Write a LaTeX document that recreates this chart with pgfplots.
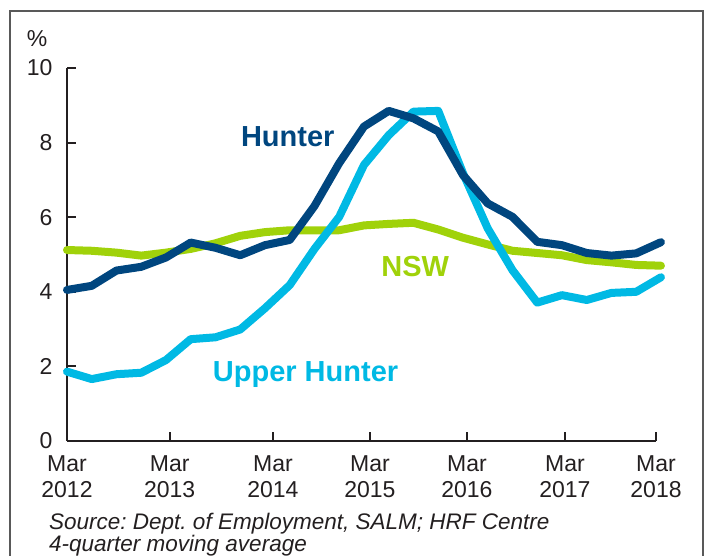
\documentclass[border=0pt]{standalone}
\usepackage{pgfplots}
\pgfplotsset{compat=1.18}
\usepackage{fontspec}
\setmainfont{Liberation Sans}
\definecolor{hunter}{RGB}{0,70,127}
\definecolor{upper}{RGB}{0,185,228}
\definecolor{nsw}{RGB}{160,210,10}
\definecolor{ink}{RGB}{35,31,32}
\frenchspacing

\begin{document}
\begin{tikzpicture}
\useasboundingbox (0,0) rectangle (705bp,556bp);
% outer frame (bottom edge falls off the page)
\draw[line width=1.2bp, black!65] (10bp,-20bp) -- (10bp,545bp) -- (703bp,545bp) -- (703bp,-20bp);
\begin{axis}[
    at={(67bp,115bp)}, anchor=south west,
    scale only axis, width=589bp, height=373bp,
    xmin=0, xmax=23.8, ymin=0, ymax=10,
    axis x line=bottom, axis y line=left,
    axis line style={line width=2.2bp, ink, -},
    xtick={0,4.15,8.32,12.24,16.16,20.12,23.8},
    xticklabels={{Mar\\2012},{Mar\\2013},{Mar\\2014},{Mar\\2015},{Mar\\2016},{Mar\\2017},{Mar\\2018}},
    ytick={0,2,...,10},
    tick align=inside, major tick length=9bp,
    tick style={line width=2bp, ink},
    tick label style={font=\fontsize{23bp}{25.5bp}\selectfont, text=ink},
    xticklabel style={align=center, inner ysep=14.5bp},
    yticklabel style={inner xsep=0pt, xshift=-14.3bp},
    /pgf/number format/assume math mode=true,
    clip=false,
]
% NSW
\addplot[nsw, line width=8bp, line join=round, line cap=round] coordinates {
  (0,5.12) (1,5.10) (2,5.05) (3,4.97) (4,5.05) (5,5.15) (6,5.30) (7,5.50)
  (8,5.60) (9,5.65) (10,5.65) (11,5.65) (12,5.78) (13,5.82) (14,5.85) (15,5.67)
  (16,5.45) (17,5.27) (18,5.10) (19,5.04) (20,4.98) (21,4.85) (22,4.79) (23,4.72) (24,4.70)
};
% Upper Hunter
\addplot[upper, line width=8bp, line join=round, line cap=round] coordinates {
  (0,1.86) (1,1.66) (2,1.79) (3,1.83) (4,2.17) (5,2.73) (6,2.78) (7,2.99)
  (8,3.56) (9,4.18) (10,5.15) (11,6.01) (12,7.40) (13,8.20) (14,8.83) (15,8.85)
  (16,7.18) (17,5.70) (18,4.58) (19,3.71) (20,3.91) (21,3.78) (22,3.97) (23,4.00) (24,4.39)
};
% Hunter
\addplot[hunter, line width=8bp, line join=round, line cap=round] coordinates {
  (0,4.05) (1,4.16) (2,4.57) (3,4.67) (4,4.92) (5,5.32) (6,5.18) (7,4.98)
  (8,5.25) (9,5.39) (10,6.30) (11,7.45) (12,8.43) (13,8.85) (14,8.65) (15,8.30)
  (16,7.13) (17,6.37) (18,6.01) (19,5.34) (20,5.25) (21,5.04) (22,4.97) (23,5.03) (24,5.33)
};
\node[anchor=base, text=hunter, font=\bfseries\fontsize{29bp}{30bp}\selectfont] at (axis cs:8.92,7.89) {Hunter};
\node[anchor=base, text=nsw, font=\bfseries\fontsize{29bp}{30bp}\selectfont] at (axis cs:14.07,4.40) {NSW};
\node[anchor=base, text=upper, font=\bfseries\fontsize{29bp}{30bp}\selectfont] at (axis cs:9.64,1.59) {Upper Hunter};
\node[text=ink, font=\fontsize{23bp}{25bp}\selectfont] at (axis cs:-1.21,10.80) {\%};
\end{axis}
\node[anchor=base west, inner sep=0pt, text=ink, font=\itshape\fontsize{22.5bp}{25bp}\selectfont] at (49bp,27bp) {Source: Dept. of Employment, SALM; HRF Centre};
\node[anchor=base west, inner sep=0pt, text=ink, font=\itshape\fontsize{22.5bp}{25bp}\selectfont] at (49bp,5bp) {4-quarter moving average};
\end{tikzpicture}
\end{document}
